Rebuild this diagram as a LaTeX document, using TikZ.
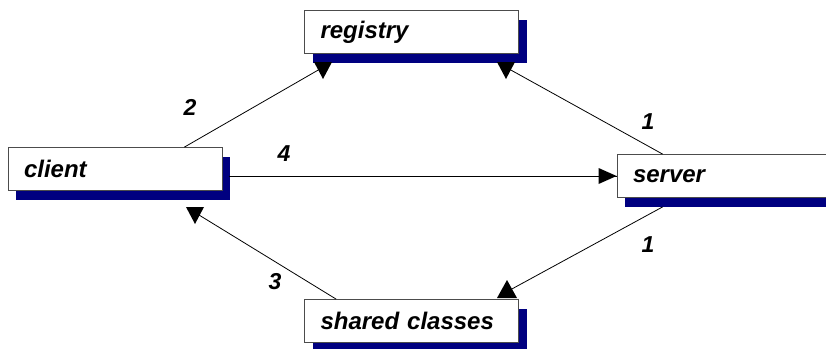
\documentclass[tikz,border=0pt]{standalone}
\usepackage{fontspec}
\setmainfont{Liberation Sans}
\usetikzlibrary{shadows}
\definecolor{shadowblue}{RGB}{0,0,128}
\tikzset{
	box/.style={draw=black!70, line width=0.8pt, fill=white,
		minimum height=43pt, inner xsep=16pt, text width=182pt, align=left,
		font=\fontsize{24}{28}\selectfont\bfseries\itshape,
		drop shadow={shadow xshift=8pt, shadow yshift=-9pt, fill=shadowblue, opacity=1}},
	lbl/.style={font=\fontsize{23}{28}\selectfont\bfseries\itshape},
	link/.style={line width=0.8pt},
}

\begin{document}
\begin{tikzpicture}[x=1pt,y=-1pt]
	\useasboundingbox (0,0) rectangle (826,348);

	\node[box] (client) at (115,169) {client};
	\node[box] (registry) at (411.5,32) {registry};
	\node[box] (server) at (724,176) {server};
	\node[box] (shared) at (411.5,321) {shared classes};

	% arrow tips
	\coordinate (a2) at (323,79);
	\coordinate (a1t) at (506,79);
	\coordinate (a3) at (195,224);
	\coordinate (a1b) at (507,280);
	\coordinate (c4) at ([xshift=7pt]client.east);

	\draw[link] ([xshift=-38pt]client.north east) -- (320,69);
	\draw[link] ([xshift=46pt]server.north west) -- (509,69);
	\draw[link] (c4 |- server.west) -- (server.west);
	\draw[link] ([xshift=32pt]shared.north west) -- (199,215);
	\draw[link] ([xshift=46pt,yshift=-9pt]server.south west) -- (510,290);

	\fill (a2) -- ++(-9,-17) -- ++(18,0) -- cycle;
	\fill (a1t) -- ++(-9,-17) -- ++(18,0) -- cycle;
	\fill (a3) -- ++(-9,-17) -- ++(18,0) -- cycle;
	\fill (a1b) -- ++(-10,18) -- ++(20,0) -- cycle;
	\fill (server.west) -- ++(-18,-8) -- ++(0,16) -- cycle;

	\node[lbl] (l2) at (190,107) {2};
	\node[lbl] (l1t) at (648,122) {1};
	\node[lbl] (l4) at (284,154) {4};
	\node[lbl] (l3) at (275,282) {3};
	\node[lbl] (l1b) at (648,245) {1};

\end{tikzpicture}
\end{document}
